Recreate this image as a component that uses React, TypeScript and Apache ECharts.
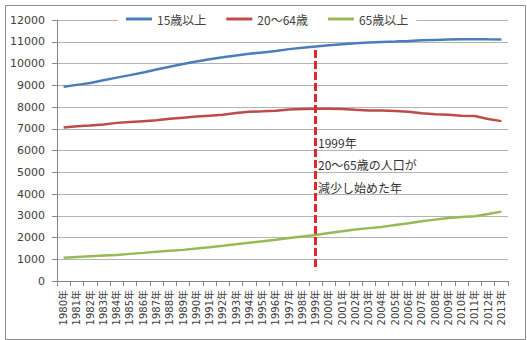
import React, { useEffect, useRef } from "react";
import * as echarts from "echarts";

const years = [
  "1980年","1981年","1982年","1983年","1984年","1985年","1986年","1987年","1988年","1989年",
  "1990年","1991年","1992年","1993年","1994年","1995年","1996年","1997年","1998年","1999年",
  "2000年","2001年","2002年","2003年","2004年","2005年","2006年","2007年","2008年","2009年",
  "2010年","2011年","2012年","2013年",
];
const over15 = [
  8932, 9017, 9102, 9232, 9351, 9465, 9587, 9720, 9849, 9974,
  10089, 10199, 10283, 10370, 10444, 10510, 10571, 10661, 10728, 10783,
  10836, 10886, 10927, 10962, 10990, 11008, 11030, 11066, 11086, 11099,
  11111, 11117, 11110, 11107,
];
const age20to64 = [
  7060, 7110, 7150, 7200, 7270, 7310, 7350, 7390, 7460, 7510,
  7560, 7600, 7640, 7720, 7780, 7800, 7830, 7880, 7910, 7920,
  7920, 7910, 7870, 7840, 7840, 7820, 7780, 7710, 7670, 7640,
  7600, 7590, 7450, 7350,
];
const over65 = [
  1065, 1101, 1135, 1167, 1196, 1247, 1293, 1342, 1392, 1431,
  1489, 1557, 1622, 1690, 1759, 1826, 1900, 1976, 2051, 2119,
  2204, 2287, 2363, 2431, 2488, 2576, 2660, 2746, 2822, 2901,
  2948, 2975, 3079, 3190,
];
const seriesNames = ["15歳以上", "20〜64歳", "65歳以上"];
const markYear = "1999年";
const markTop = 10620;
const markBottom = 500;
const noteLines = ["1999年", "20〜65歳の人口が", "減少し始めた年"];

const FONT = "'DejaVu Sans', 'Noto Sans CJK JP', sans-serif";
const CJK = "'Noto Sans CJK JP', sans-serif";

export default function App() {
  const ref = useRef<HTMLDivElement>(null);
  useEffect(() => {
    document.body.style.margin = "0";
    const chart = echarts.init(ref.current!, null, { renderer: "svg" });
    const lineSeries = (name: string, data: number[], color: string) => ({
      name,
      type: "line",
      data,
      symbol: "none",
      smooth: false,
      lineStyle: { color, width: 2.5 },
      itemStyle: { color },
    });
    const s2: any = lineSeries(seriesNames[1], age20to64, "#be4b48");
    s2.markLine = {
      symbol: "none",
      silent: true,
      label: { show: false },
      lineStyle: { color: "#e3262a", type: [8, 3], width: 3 },
      data: [[{ coord: [markYear, markTop] }, { coord: [markYear, markBottom] }]],
    };
    chart.setOption({
      animation: false,
      backgroundColor: "#fff",
      grid: { left: 57, top: 20, right: 19, bottom: 59, containLabel: false },
      legend: {
        top: 12,
        left: 118,
        padding: [1, 8, 1, 8],
        backgroundColor: "#fff",
        itemWidth: 26,
        itemHeight: 3,
        itemGap: 20,
        icon: "rect",
        textStyle: { fontFamily: CJK, fontSize: 12, color: "#404040" },
        data: seriesNames,
        z: 10,
      },
      xAxis: {
        type: "category",
        data: years,
        boundaryGap: true,
        axisLine: { lineStyle: { color: "#868686", width: 1 } },
        axisTick: { show: true, alignWithLabel: false, length: 5, lineStyle: { color: "#868686" } },
        axisLabel: {
          interval: 0,
          rotate: 90,
          margin: 9,
          fontFamily: FONT,
          fontSize: 10,
          color: "#404040",
        },
        splitLine: { show: false },
      },
      yAxis: {
        type: "value",
        min: 0,
        max: 12000,
        interval: 1000,
        axisLine: { show: true, lineStyle: { color: "#868686", width: 1 } },
        axisTick: { show: true, length: 5, lineStyle: { color: "#868686" } },
        axisLabel: {
          margin: 12,
          fontFamily: FONT,
          fontSize: 11,
          color: "#404040",
          formatter: (v: number) => String(v),
        },
        splitLine: { lineStyle: { color: "#b3b3b3", width: 1 } },
      },
      graphic: [
        {
          type: "rect",
          left: 3,
          top: 3,
          shape: { width: 520, height: 334 },
          style: { fill: "none", stroke: "#8c8c8c", lineWidth: 1 },
          silent: true,
          z: 100,
        },
        ...noteLines.map((t, i) => ({
          type: "text",
          left: 318,
          top: 136 + i * 22.5,
          style: { text: t, fontFamily: CJK, fontSize: 12, fill: "#333" },
          z: 100,
        })),
      ],
      series: [
        lineSeries(seriesNames[0], over15, "#4a7ebb"),
        s2,
        lineSeries(seriesNames[2], over65, "#98b954"),
      ],
    });
    return () => chart.dispose();
  }, []);
  return <div ref={ref} style={{ width: 527, height: 340 }} />;
}
